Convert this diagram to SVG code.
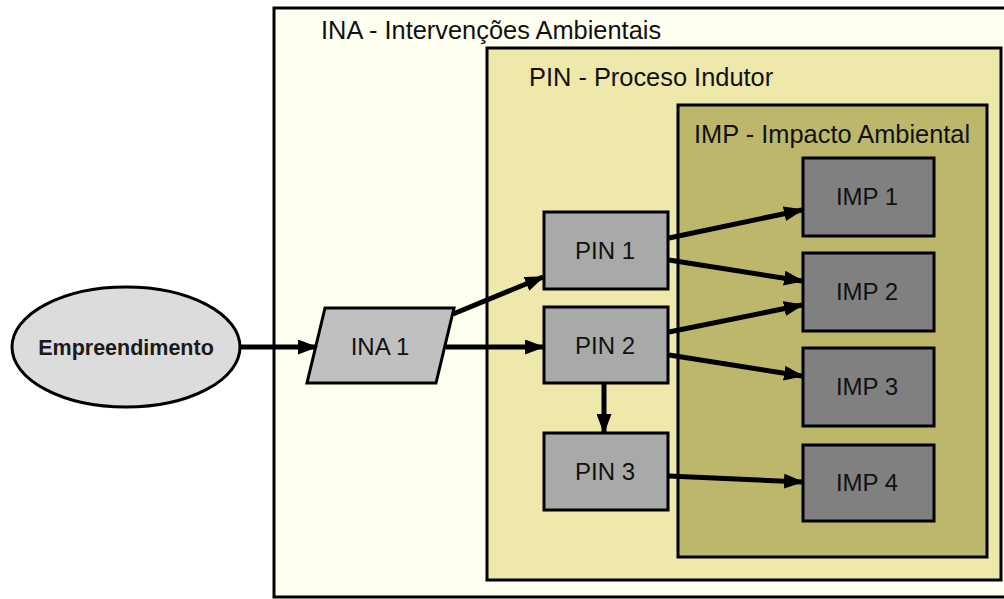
<svg xmlns="http://www.w3.org/2000/svg" width="1004" height="599" viewBox="0 0 1004 599">
<defs>
<style>
.c{fill:none;stroke:#000;stroke-width:3}
.t{font-family:"Liberation Sans",Arial,sans-serif;font-size:24px;fill:#111}
.tt{font-family:"Liberation Sans",Arial,sans-serif;font-size:25.4px;fill:#111}
.n{stroke:#000;stroke-width:3}
.e{stroke:#000;stroke-width:5;fill:none;marker-end:url(#a)}
</style>
<marker id="a" viewBox="0 0 10 10" refX="9" refY="5" markerWidth="4" markerHeight="3" orient="auto" markerUnits="strokeWidth" preserveAspectRatio="none"><path d="M0,0L10,5L0,10z" fill="#000"/></marker>
</defs>
<rect width="1004" height="599" fill="#fff"/>
<g id="ina-container">
<rect x="274" y="8" width="740" height="589" fill="#FFFFF0" class="n"/>
<text x="321" y="39" class="tt">INA - Intervenções Ambientais</text>
</g>
<g id="pin-container">
<rect x="487" y="48" width="514" height="532" fill="#EEE8AA" class="n"/>
<text x="529" y="86" class="tt">PIN - Proceso Indutor</text>
</g>
<g id="imp-container">
<rect x="678" y="105" width="309" height="452" fill="#BDB76B" class="n"/>
<text x="694" y="143" class="tt">IMP - Impacto Ambiental</text>
</g>
<g id="empreendimento">
<ellipse cx="126" cy="347" rx="114" ry="60" fill="#DCDCDC" class="n"/>
<text x="126" y="355" text-anchor="middle" font-family="Liberation Sans,Arial,sans-serif" font-size="21.5" font-weight="bold" fill="#1a1a1a">Empreendimento</text>
</g>
<g id="ina1">
<polygon points="325,308 454,308 436,383 307,383" fill="#C0C0C0" class="n"/>
<text x="380" y="355" text-anchor="middle" class="t">INA 1</text>
</g>
<g id="pin1">
<rect x="544" y="212" width="124" height="77" fill="#A9A9A9" class="n"/>
<text x="605" y="259" text-anchor="middle" class="t">PIN 1</text>
</g>
<g id="pin2">
<rect x="544" y="307" width="124" height="76" fill="#A9A9A9" class="n"/>
<text x="605" y="354" text-anchor="middle" class="t">PIN 2</text>
</g>
<g id="pin3">
<rect x="544" y="433" width="124" height="77" fill="#A9A9A9" class="n"/>
<text x="605" y="480" text-anchor="middle" class="t">PIN 3</text>
</g>
<g id="imp1">
<rect x="803" y="158" width="131" height="78" fill="#808080" class="n"/>
<text x="867" y="205" text-anchor="middle" class="t">IMP 1</text>
</g>
<g id="imp2">
<rect x="803" y="253" width="131" height="78" fill="#808080" class="n"/>
<text x="867" y="300" text-anchor="middle" class="t">IMP 2</text>
</g>
<g id="imp3">
<rect x="803" y="348" width="131" height="78" fill="#808080" class="n"/>
<text x="867" y="395" text-anchor="middle" class="t">IMP 3</text>
</g>
<g id="imp4">
<rect x="803" y="445" width="131" height="76" fill="#808080" class="n"/>
<text x="867" y="491" text-anchor="middle" class="t">IMP 4</text>
</g>
<g id="connectors">
<line x1="240" y1="347" x2="316" y2="347" class="e"/>
<line x1="453" y1="314" x2="543" y2="277" class="e"/>
<line x1="446" y1="347" x2="543" y2="347" class="e"/>
<line x1="604" y1="384" x2="604" y2="432" class="e"/>
<line x1="669" y1="238" x2="802" y2="210" class="e"/>
<line x1="669" y1="260" x2="802" y2="281" class="e"/>
<line x1="669" y1="332" x2="802" y2="305" class="e"/>
<line x1="669" y1="355" x2="802" y2="376" class="e"/>
<line x1="669" y1="476" x2="802" y2="482" class="e"/>
</g>
</svg>
